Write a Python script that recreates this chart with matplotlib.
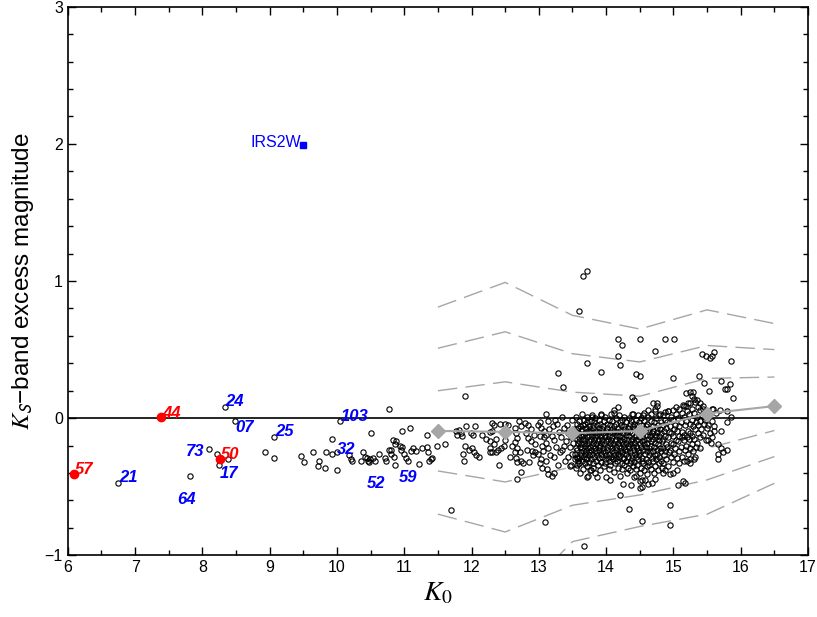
import numpy as np
import matplotlib
matplotlib.use('Agg')
import matplotlib.pyplot as plt

plt.rcParams['font.family'] = ['Liberation Sans', 'DejaVu Sans']
plt.rcParams['mathtext.fontset'] = 'stix'
plt.rcParams['mathtext.default'] = 'it'

# --- data (K0, K_S excess) ---

# bright stars, K0 < 11.5
bright_pts = [
    (6.75, -0.47), (7.82, -0.425), (8.10, -0.225), (8.22, -0.26), (8.38, -0.30),
    (8.24, -0.34), (8.33, 0.085), (8.49, -0.02), (9.07, -0.135), (8.93, -0.25),
    (9.07, -0.29), (9.46, -0.275), (9.51, -0.32), (9.64, -0.245), (9.73, -0.31),
    (9.72, -0.35), (9.82, -0.36), (9.84, -0.25), (9.92, -0.26), (10.00, -0.25),
    (10.00, -0.375), (9.92, -0.155), (10.05, -0.02), (10.50, -0.11), (10.77, 0.065),
    (10.18, -0.265), (10.21, -0.30), (10.23, -0.31), (10.38, -0.25), (10.35, -0.31),
    (10.41, -0.28), (10.44, -0.29), (10.46, -0.31), (10.49, -0.30), (10.47, -0.32),
    (10.54, -0.29), (10.56, -0.31), (10.63, -0.26), (10.71, -0.29), (10.73, -0.31),
    (10.77, -0.23), (10.81, -0.23), (10.83, -0.16), (10.87, -0.17), (10.86, -0.19),
    (10.80, -0.26), (10.85, -0.28), (10.93, -0.20), (10.95, -0.23), (11.00, -0.26),
    (10.97, -0.21), (10.86, -0.34), (10.97, -0.095), (11.09, -0.07), (11.02, -0.29),
    (11.06, -0.31), (11.10, -0.24), (11.13, -0.22), (11.18, -0.24), (11.22, -0.335),
    (11.27, -0.215), (11.34, -0.125), (11.34, -0.21), (11.36, -0.25), (11.37, -0.31),
    (11.41, -0.29), (11.40, -0.30), (11.48, -0.20),
]

# intermediate magnitudes, 11.5 < K0 < 13
mid_pts = [
    (11.61, -0.19), (11.70, -0.67), (11.90, 0.163), (11.77, -0.09), (11.79, -0.12),
    (11.82, -0.085), (11.84, -0.11), (11.86, -0.13), (11.91, -0.055), (12.05, -0.055),
    (11.99, -0.11), (12.02, -0.12), (11.90, -0.205), (11.87, -0.26), (11.96, -0.23),
    (12.00, -0.22), (12.03, -0.25), (12.06, -0.27), (12.11, -0.285), (11.89, -0.315),
    (12.15, -0.125), (12.22, -0.15), (12.27, -0.17), (12.28, -0.22), (12.27, -0.25),
    (12.31, -0.245), (12.33, -0.19), (12.37, -0.15), (12.31, -0.035), (12.34, -0.05),
    (12.42, -0.046), (12.49, -0.046), (12.54, -0.05), (12.30, -0.09), (12.28, -0.10),
    (12.41, -0.34), (12.36, -0.25), (12.40, -0.23), (12.44, -0.22), (12.48, -0.20),
    (12.50, -0.16), (12.64, -0.07), (12.66, -0.11), (12.68, -0.145), (12.65, -0.175),
    (12.67, -0.22), (12.64, -0.245), (12.66, -0.29), (12.67, -0.32), (12.70, -0.02),
    (12.74, -0.06), (12.79, -0.035), (12.84, -0.05), (12.81, -0.11), (12.84, -0.145),
    (12.74, -0.31), (12.76, -0.33), (12.85, -0.32), (12.83, -0.23), (12.90, -0.24),
    (12.95, -0.25), (12.99, -0.26), (12.92, -0.27), (12.98, -0.05), (12.88, -0.08),
    (12.93, -0.12), (12.74, -0.39), (12.68, -0.44), (12.72, -0.25), (12.60, -0.20),
    (12.57, -0.28), (12.88, -0.17), (12.95, -0.19),
]

# the crowded faint part, K0 13 - 15.9
core_pts = [
    (13.03, -0.07), (13.08, -0.09), (13.11, -0.12), (13.10, -0.18), (13.07, -0.14),
    (13.01, -0.13), (13.03, -0.30), (13.10, -0.31), (13.05, -0.36), (13.10, 0.03),
    (13.02, -0.03), (13.04, -0.20), (13.06, -0.24), (13.01, -0.33),
    (13.13, -0.02), (13.15, -0.08), (13.14, -0.22), (13.17, -0.27), (13.12, -0.37),
    (13.21, -0.06), (13.19, -0.13), (13.23, -0.16), (13.22, -0.28), (13.24, -0.015),
    (13.27, -0.04), (13.30, -0.10), (13.26, -0.21), (13.31, -0.25), (13.28, -0.34),
    (13.34, 0.01), (13.37, -0.07), (13.33, -0.14), (13.38, -0.20), (13.35, -0.23), (13.39, -0.31),
    (13.42, -0.05), (13.44, -0.11), (13.41, -0.17), (13.47, -0.21), (13.43, -0.28), (13.46, -0.35),
    (13.49, -0.01), (13.52, -0.08), (13.48, -0.14), (13.51, -0.18), (13.50, -0.26), (13.53, -0.30),
    # dense core
    (13.55, 0.01), (13.56, -0.04), (13.54, -0.12), (13.56, -0.15), (13.55, -0.22), (13.54, -0.26),
    (13.56, -0.28), (13.55, -0.36),
    (13.58, -0.07), (13.57, -0.10), (13.58, -0.18), (13.57, -0.23), (13.58, -0.31), (13.57, -0.34),
    (13.60, -0.02), (13.61, -0.06), (13.59, -0.14), (13.60, -0.17), (13.61, -0.21), (13.59, -0.29),
    (13.60, -0.33), (13.61, -0.40),
    (13.62, -0.09), (13.63, -0.12), (13.62, -0.19), (13.63, -0.25), (13.62, -0.27),
    (13.64, 0.03), (13.65, -0.05), (13.64, -0.08), (13.65, -0.15), (13.64, -0.22), (13.65, -0.24),
    (13.64, -0.31), (13.66, -0.37),
    (13.67, -0.01), (13.68, -0.11), (13.66, -0.13), (13.67, -0.18), (13.68, -0.20), (13.67, -0.28),
    (13.68, -0.33),
    (13.69, -0.04), (13.70, -0.07), (13.69, -0.16), (13.70, -0.24), (13.69, -0.26), (13.70, -0.30),
    (13.72, 0.01), (13.71, -0.03), (13.73, -0.09), (13.72, -0.14), (13.71, -0.19), (13.73, -0.22),
    (13.72, -0.29), (13.71, -0.35), (13.73, -0.42),
    (13.74, -0.06), (13.75, -0.12), (13.74, -0.17), (13.75, -0.25), (13.74, -0.27), (13.75, -0.32),
    (13.77, -0.02), (13.76, -0.08), (13.78, -0.10), (13.77, -0.15), (13.76, -0.21), (13.78, -0.23),
    (13.77, -0.30), (13.76, -0.38),
    (13.79, 0.02), (13.80, -0.05), (13.79, -0.13), (13.80, -0.18), (13.79, -0.26), (13.80, -0.33),
    (13.82, -0.03), (13.81, -0.07), (13.83, -0.11), (13.82, -0.16), (13.81, -0.20), (13.83, -0.24),
    (13.82, -0.28), (13.81, -0.36),
    (13.84, 0.00), (13.85, -0.09), (13.84, -0.14), (13.85, -0.19), (13.84, -0.22), (13.85, -0.31),
    (13.84, -0.40),
    (13.87, -0.05), (13.86, -0.12), (13.88, -0.17), (13.87, -0.25), (13.86, -0.27), (13.88, -0.34),
    (13.89, -0.01), (13.90, -0.07), (13.89, -0.10), (13.90, -0.15), (13.89, -0.21), (13.90, -0.23),
    (13.89, -0.29),
    (13.92, 0.02), (13.91, -0.04), (13.93, -0.13), (13.92, -0.18), (13.91, -0.20), (13.93, -0.26),
    (13.92, -0.32), (13.91, -0.38),
    (13.94, -0.08), (13.95, -0.11), (13.94, -0.16), (13.95, -0.24), (13.94, -0.28),
    (13.97, -0.02), (13.96, -0.06), (13.98, -0.14), (13.97, -0.19), (13.96, -0.22), (13.98, -0.30),
    (13.97, -0.35),
    (13.99, 0.01), (14.00, -0.09), (13.99, -0.12), (14.00, -0.17), (13.99, -0.25), (14.00, -0.27),
    (13.99, -0.33), (14.00, -0.43),
    (14.02, -0.04), (14.01, -0.07), (14.03, -0.15), (14.02, -0.21), (14.01, -0.23), (14.03, -0.29),
    (14.04, -0.01), (14.05, -0.10), (14.04, -0.13), (14.05, -0.18), (14.04, -0.26), (14.05, -0.31),
    (14.04, -0.37),
    (14.07, 0.03), (14.06, -0.05), (14.08, -0.08), (14.07, -0.16), (14.06, -0.20), (14.08, -0.24),
    (14.07, -0.28), (14.06, -0.34),
    (14.09, -0.02), (14.10, -0.11), (14.09, -0.14), (14.10, -0.19), (14.09, -0.22), (14.10, -0.30),
    (14.12, -0.06), (14.11, -0.09), (14.13, -0.17), (14.12, -0.25), (14.11, -0.27), (14.13, -0.33),
    (14.12, -0.39),
    (14.14, 0.00), (14.15, -0.04), (14.14, -0.12), (14.15, -0.15), (14.14, -0.21), (14.15, -0.23),
    (14.14, -0.29),
    (14.17, -0.07), (14.16, -0.10), (14.18, -0.18), (14.17, -0.26), (14.16, -0.31), (14.18, -0.36),
    (14.19, 0.02), (14.20, -0.03), (14.19, -0.13), (14.20, -0.16), (14.19, -0.20), (14.20, -0.24),
    (14.19, -0.28), (14.20, -0.42),
    (14.22, -0.05), (14.21, -0.09), (14.23, -0.14), (14.22, -0.22), (14.21, -0.27), (14.23, -0.33),
    (14.24, -0.01), (14.25, -0.11), (14.24, -0.17), (14.25, -0.19), (14.24, -0.25), (14.25, -0.30),
    (14.24, -0.37),
    (14.27, 0.01), (14.26, -0.06), (14.28, -0.08), (14.27, -0.15), (14.26, -0.21), (14.28, -0.23),
    (14.27, -0.29), (14.26, -0.34),
    (14.29, -0.03), (14.30, -0.12), (14.29, -0.18), (14.30, -0.26), (14.29, -0.31),
    (14.32, -0.07), (14.31, -0.10), (14.33, -0.16), (14.32, -0.20), (14.31, -0.24), (14.33, -0.28),
    (14.32, -0.36), (14.31, -0.40),
    (14.34, 0.00), (14.35, -0.04), (14.34, -0.13), (14.35, -0.19), (14.34, -0.22), (14.35, -0.33),
    (14.37, -0.02), (14.36, -0.09), (14.38, -0.15), (14.37, -0.17), (14.36, -0.25), (14.38, -0.27),
    (14.37, -0.31), (14.36, -0.38),
    (14.39, 0.03), (14.40, -0.06), (14.39, -0.11), (14.40, -0.21), (14.39, -0.29), (14.40, -0.35),
    (14.42, -0.04), (14.41, -0.08), (14.43, -0.14), (14.42, -0.18), (14.41, -0.23), (14.43, -0.26),
    (14.42, -0.32), (14.41, -0.43),
    (14.44, -0.01), (14.45, -0.12), (14.44, -0.16), (14.45, -0.20), (14.44, -0.28), (14.45, -0.37),
    (14.47, 0.02), (14.46, -0.05), (14.48, -0.10), (14.47, -0.15), (14.46, -0.22), (14.48, -0.24),
    (14.47, -0.30), (14.46, -0.34),
    (14.49, -0.03), (14.50, -0.07), (14.49, -0.13), (14.50, -0.19), (14.49, -0.27), (14.50, -0.40),
    (14.52, 0.00), (14.51, -0.09), (14.53, -0.17), (14.52, -0.21), (14.51, -0.25), (14.53, -0.31),
    (14.52, -0.36),
    (14.54, -0.05), (14.55, -0.11), (14.54, -0.14), (14.55, -0.23), (14.54, -0.29), (14.55, -0.33),
    (14.54, -0.45),
    (14.57, 0.04), (14.56, -0.02), (14.58, -0.08), (14.57, -0.16), (14.56, -0.19), (14.58, -0.26),
    (14.57, -0.38),
    (14.59, -0.06), (14.60, -0.12), (14.59, -0.21), (14.60, -0.24), (14.59, -0.30), (14.60, -0.35),
    (14.62, 0.01), (14.61, -0.04), (14.63, -0.10), (14.62, -0.15), (14.61, -0.18), (14.63, -0.27),
    (14.62, -0.32), (14.61, -0.41),
    (14.64, -0.08), (14.65, -0.13), (14.64, -0.22), (14.65, -0.25), (14.64, -0.34),
    (14.67, 0.03), (14.66, -0.02), (14.68, -0.11), (14.67, -0.17), (14.66, -0.20), (14.68, -0.29),
    (14.67, -0.37),
    (14.69, -0.06), (14.70, -0.09), (14.69, -0.15), (14.70, -0.24), (14.69, -0.31),
    (14.72, 0.05), (14.71, -0.03), (14.73, -0.12), (14.72, -0.18), (14.71, -0.21), (14.73, -0.27),
    (14.72, -0.35), (14.71, -0.40),
    (14.74, 0.00), (14.75, -0.07), (14.74, -0.14), (14.75, -0.23), (14.74, -0.30),
    (14.77, -0.05), (14.76, -0.10), (14.78, -0.16), (14.77, -0.19), (14.76, -0.26), (14.78, -0.33),
    (14.77, -0.38),
    (14.79, 0.02), (14.80, -0.08), (14.79, -0.13), (14.80, -0.22), (14.79, -0.28),
    (14.82, -0.03), (14.81, -0.11), (14.83, -0.17), (14.82, -0.24), (14.81, -0.31), (14.83, -0.36),
    # upper right part of the locus
    (14.85, 0.02), (14.84, -0.05), (14.86, -0.09), (14.85, -0.15), (14.84, -0.22), (14.86, -0.27),
    (14.85, -0.33),
    (14.88, -0.01), (14.89, -0.07), (14.88, -0.13), (14.89, -0.19), (14.88, -0.24), (14.89, -0.30),
    (14.88, -0.38),
    (14.92, 0.05), (14.91, -0.03), (14.93, -0.10), (14.92, -0.14), (14.91, -0.21), (14.93, -0.25),
    (14.92, -0.35),
    (14.96, 0.01), (14.95, -0.06), (14.97, -0.11), (14.96, -0.18), (14.95, -0.23), (14.97, -0.28),
    (15.00, 0.06), (14.99, -0.01), (15.01, -0.08), (15.00, -0.13), (14.99, -0.19), (15.01, -0.26),
    (15.00, -0.32), (14.99, -0.40),
    (15.04, 0.03), (15.03, -0.05), (15.05, -0.09), (15.04, -0.16), (15.03, -0.22), (15.05, -0.29),
    (15.08, 0.07), (15.07, 0.00), (15.09, -0.06), (15.08, -0.13), (15.07, -0.17), (15.09, -0.24),
    (15.08, -0.33),
    (15.12, 0.04), (15.11, -0.03), (15.13, -0.10), (15.12, -0.14), (15.11, -0.21), (15.13, -0.28),
    (15.16, 0.09), (15.15, 0.01), (15.17, -0.05), (15.16, -0.12), (15.15, -0.16), (15.17, -0.23),
    (15.16, -0.31),
    (15.20, 0.05), (15.19, -0.02), (15.21, -0.09), (15.20, -0.14), (15.19, -0.20), (15.21, -0.26),
    (15.24, 0.11), (15.23, 0.03), (15.25, -0.04), (15.24, -0.11), (15.23, -0.15), (15.25, -0.22),
    (15.24, -0.30),
    (15.28, 0.07), (15.27, -0.01), (15.29, -0.06), (15.28, -0.13), (15.27, -0.19), (15.29, -0.24),
    (15.32, 0.12), (15.31, 0.04), (15.33, -0.03), (15.32, -0.08), (15.31, -0.15), (15.33, -0.21),
    (15.32, -0.28),
    (15.36, 0.08), (15.35, 0.01), (15.37, -0.05), (15.36, -0.11), (15.35, -0.18),
    (15.40, 0.06), (15.39, -0.02), (15.41, -0.08), (15.40, -0.14), (15.39, -0.22),
    (15.44, 0.09), (15.43, 0.02), (15.45, -0.04), (15.44, -0.12),
    (15.49, 0.05), (15.47, -0.01), (15.50, -0.07), (15.48, -0.16),
    (15.53, 0.03), (15.51, -0.05), (15.54, -0.11),
    (15.59, 0.07), (15.57, -0.02), (15.60, -0.09), (15.58, -0.14),
    (15.63, 0.04), (15.61, -0.06),
    (15.69, 0.06), (15.79, 0.05), (15.85, 0.01), (15.80, -0.03), (15.70, -0.095),
    (15.66, -0.19), (15.71, -0.22), (15.80, -0.23), (15.66, -0.26), (15.66, -0.30),
    (15.56, -0.18), (15.51, -0.16), (15.73, -0.25),
]

# points well above the main locus
upper_pts = [
    (13.36, 0.23), (13.67, 0.148), (13.82, 0.143), (14.38, 0.155), (14.41, 0.136),
    (14.17, 0.08), (14.12, 0.04), (13.93, 0.034), (13.65, 1.036), (13.72, 1.073),
    (13.60, 0.78), (14.18, 0.58), (14.50, 0.577), (14.87, 0.58), (15.01, 0.575),
    (14.24, 0.53), (14.73, 0.49), (14.18, 0.45), (14.20, 0.39), (13.72, 0.40),
    (13.92, 0.34), (13.29, 0.33), (14.45, 0.32), (14.51, 0.31), (15.00, 0.29),
    (15.43, 0.47), (15.48, 0.45), (15.55, 0.44), (15.58, 0.45), (15.61, 0.48),
    (15.86, 0.42), (15.38, 0.31), (15.45, 0.26), (15.53, 0.20), (15.70, 0.27),
    (15.76, 0.21), (15.79, 0.21), (15.84, 0.25), (15.88, 0.15), (15.18, 0.185),
    (15.24, 0.19), (15.28, 0.16), (15.31, 0.14), (15.35, 0.13), (15.39, 0.11),
    (15.29, 0.19), (15.22, 0.107), (15.14, 0.095), (15.19, 0.09), (15.04, 0.083),
    (14.76, 0.107), (14.76, 0.088), (14.62, 0.063), (14.69, 0.107), (14.72, 0.07),
    (14.87, 0.046), (14.92, 0.053), (14.80, 0.034), (14.55, 0.02), (14.40, 0.03),
    (14.12, 0.06), (13.79, 0.01), (15.44, 0.07), (15.57, 0.07), (15.47, 0.01),
]

# points well below the main locus
lower_pts = [
    (14.06, -0.45), (14.20, -0.56), (14.34, -0.66), (14.54, -0.75), (14.95, -0.63),
    (14.95, -0.78), (13.67, -0.93), (13.09, -0.76), (14.25, -0.48), (14.37, -0.49),
    (14.45, -0.42), (14.50, -0.46), (14.53, -0.50), (14.58, -0.45), (14.62, -0.48),
    (14.68, -0.47), (14.72, -0.44), (14.51, -0.51), (15.07, -0.49), (15.17, -0.47),
    (15.14, -0.46), (14.84, -0.40), (14.95, -0.41), (15.05, -0.38), (13.14, -0.41),
    (13.22, -0.40), (13.48, -0.34), (13.78, -0.375), (13.20, -0.42), (15.20, -0.31),
    (15.25, -0.33), (15.31, -0.30), (13.56, -0.29), (13.71, -0.43), (13.87, -0.43),
]

# numbered / named stars
red_K0 = [6.09, 7.38, 8.26]
red_dK = [-0.41, 0.01, -0.30]
red_names = ['57', '44', '50']
red_text_x = [6.11, 7.40, 8.28]
red_text_y = [-0.375, 0.036, -0.266]

blue_names = ['21', '24', '07', '25', '73', '17', '64', '103', '32', '52', '59']
blue_text_x = [6.76, 8.34, 8.49, 9.08, 7.76, 8.26, 7.62, 10.06, 10.00, 10.45, 10.92]
blue_text_y = [-0.434, 0.12, -0.07, -0.099, -0.245, -0.40, -0.59, 0.015, -0.226, -0.478, -0.43]

irs_K0, irs_dK = 9.50, 1.99

# binned statistics of the faint sample
bin_K0 = [11.5, 12.5, 13.5, 14.5, 15.5, 16.5]
bin_median = [-0.093, -0.10, -0.11, -0.093, 0.034, 0.088]
up_1s = [0.20, 0.265, 0.19, 0.16, 0.29, 0.30]
up_2s = [0.51, 0.63, 0.47, 0.41, 0.53, 0.50]
up_3s = [0.81, 0.99, 0.75, 0.65, 0.79, 0.69]
lo_1s = [-0.385, -0.465, -0.355, -0.32, -0.22, -0.09]
lo_2s = [-0.70, -0.83, -0.635, -0.56, -0.45, -0.28]
lo_3s = [-1.20, -1.40, -0.90, -0.79, -0.70, -0.475]

# --- plot ---
fig = plt.figure(figsize=(8.17, 6.17), dpi=100)
ax = fig.add_axes([0.083, 0.100, 0.906, 0.889])

grey = '#a6a6a6'
for curve in [up_1s, up_2s, up_3s, lo_1s, lo_2s, lo_3s]:
    ax.plot(bin_K0, curve, color=grey, lw=1.0, dashes=(14, 6), zorder=1)

ax.axhline(0, color='black', lw=1.2, zorder=2)

field = np.array(bright_pts + mid_pts + core_pts + upper_pts + lower_pts)
ax.plot(field[:, 0], field[:, 1], 'o', mfc='none', mec='black', ms=3.8, mew=0.8, zorder=3)

ax.plot(bin_K0, bin_median, color=grey, lw=1.5, marker='D', ms=7, mec=grey, mfc=grey, zorder=4)

ax.plot(red_K0, red_dK, 'o', color='red', ms=6, zorder=5)
lab_kw = dict(fontsize=12, style='italic', weight='bold', ha='left', va='center', zorder=6)
for n, tx, ty in zip(red_names, red_text_x, red_text_y):
    ax.text(tx, ty, n, color='red', **lab_kw)
for n, tx, ty in zip(blue_names, blue_text_x, blue_text_y):
    ax.text(tx, ty, n, color='blue', **lab_kw)

ax.plot([irs_K0], [irs_dK], 's', color='blue', ms=4.5, zorder=5)
ax.text(irs_K0 - 0.03, irs_dK + 0.02, 'IRS2W', color='blue', fontsize=11.5, ha='right', va='center')

ax.set_xlim(6, 17)
ax.set_ylim(-1, 3)
ax.set_xticks(range(6, 18))
ax.set_xticks(np.arange(6.5, 17, 1.0), minor=True)
ax.set_yticks(range(-1, 4))
ax.set_yticks(np.arange(-1, 3.01, 0.2), minor=True)
ax.tick_params(which='both', direction='in', top=True, right=True, labelsize=11.5, width=1)
ax.tick_params(which='major', length=6)
ax.tick_params(which='minor', length=3.5)
for s in ax.spines.values():
    s.set_linewidth(1.2)

ax.set_xlabel(r'$K_0$', fontsize=20, labelpad=4)
ax.set_ylabel(r'$K_{\mathsf{S}}$' + '\u2212band excess magnitude', fontsize=17.5, labelpad=6)

fig.savefig('out.png', dpi=100)
